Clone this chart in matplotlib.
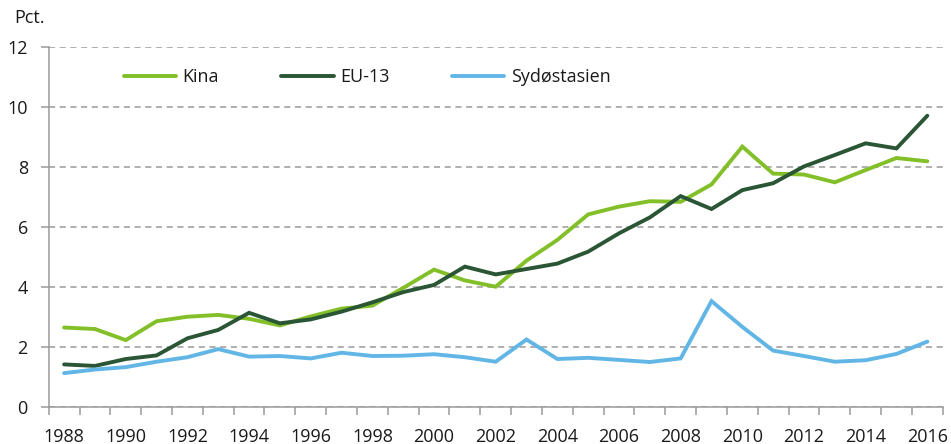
import matplotlib
matplotlib.use("Agg")
import matplotlib.pyplot as plt
import numpy as np

plt.rcParams['font.family'] = ['Open Sans', 'DejaVu Sans']

years = list(range(1988, 2017))
kina = [2.65, 2.60, 2.23, 2.86, 3.01, 3.07, 2.94, 2.72, 3.02, 3.28, 3.38, 3.97, 4.58, 4.22,
        4.01, 4.88, 5.57, 6.42, 6.68, 6.86, 6.84, 7.42, 8.68, 7.78, 7.75, 7.49, 7.90, 8.30, 8.19]
eu13 = [1.42, 1.37, 1.60, 1.72, 2.29, 2.57, 3.14, 2.79, 2.92, 3.18, 3.49, 3.83, 4.07, 4.68,
        4.42, 4.60, 4.78, 5.18, 5.79, 6.32, 7.03, 6.60, 7.23, 7.46, 8.02, 8.40, 8.79, 8.62, 9.71]
sea = [1.13, 1.25, 1.33, 1.51, 1.66, 1.93, 1.68, 1.70, 1.62, 1.81, 1.70, 1.71, 1.76, 1.66,
       1.51, 2.25, 1.60, 1.64, 1.57, 1.50, 1.62, 3.53, 2.67, 1.88, 1.70, 1.51, 1.56, 1.77, 2.18]
series_names = ["Kina", "EU-13", "Sydøstasien"]
colors = ["#82bf28", "#2a5635", "#62b6e6"]
yticks = [0, 2, 4, 6, 8, 10, 12]

fig = plt.figure(figsize=(9.51, 4.44), dpi=100)
ax = fig.add_axes([0.0512, 0.0833, 0.9401, 0.8108])

x = np.arange(len(years))
for vals, name, c in zip([kina, eu13, sea], series_names, colors):
    ax.plot(x, vals, color=c, lw=2.8, label=name, solid_capstyle='round', solid_joinstyle='miter')

ax.set_xlim(-0.5, len(years) - 0.5)
ax.set_ylim(0, 12)
ax.set_yticks(yticks)
ax.set_yticklabels([str(v) for v in yticks])
ax.yaxis.grid(True, linestyle=(0, (4, 3)), color="#9a9a9a", lw=1.1)
ax.set_axisbelow(True)

# x ticks: marks at category boundaries, labels at centres of every second year
ax.set_xticks(np.arange(-0.5, len(years), 1.0))
ax.set_xticklabels([])
ax.set_xticks(x[::2], minor=True)
ax.set_xticklabels([str(y) for y in years[::2]], minor=True)
ax.tick_params(axis='x', which='major', length=6, width=1.1, color="#9a9a9a")
ax.tick_params(axis='x', which='minor', length=0, pad=15, labelsize=13, labelcolor="#1a1a1a")
ax.tick_params(axis='y', length=6, width=1.1, color="#9a9a9a", pad=9, labelsize=13, labelcolor="#1a1a1a")

for s in ["top", "right"]:
    ax.spines[s].set_visible(False)
for s in ["left", "bottom"]:
    ax.spines[s].set_color("#9a9a9a")
    ax.spines[s].set_linewidth(1.1)

leg = ax.legend(loc='center left', bbox_to_anchor=(0.0842, 0.9167), ncol=3, frameon=False,
                fontsize=13, handlelength=2.9, handletextpad=0.35, columnspacing=3.45,
                borderpad=0, borderaxespad=0)
for t in leg.get_texts():
    t.set_color("#1a1a1a")

fig.text(14 / 951, 1 - 18 / 444, "Pct.", fontsize=13, color="#1a1a1a", va='center', ha='left')

fig.savefig("out.png", dpi=100)
